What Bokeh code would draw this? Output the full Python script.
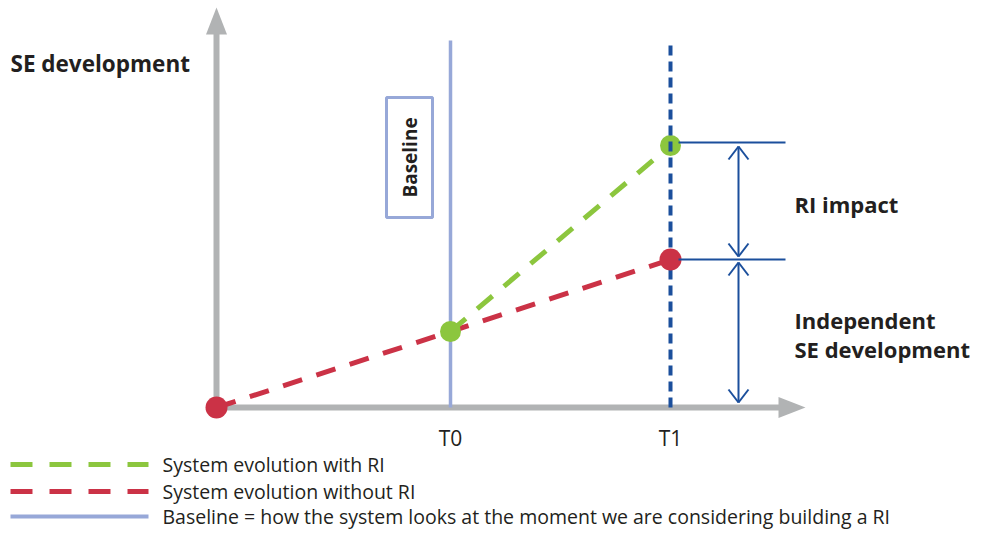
from bokeh.plotting import figure
from bokeh.models import Range1d, Label
from bokeh.core.properties import value
from bokeh.embed import file_html
from bokeh.resources import INLINE
import math

# ---- data (diagram units; origin at the axes crossing) ----
time_labels = ["T0", "T1"]
time_x = [234, 454]
without_ri_x = [0, 234, 454]
without_ri_y = [0, 76, 148]
with_ri_x = [234, 454]
with_ri_y = [76, 262]
legend_labels = ["System evolution with RI",
                 "System evolution without RI",
                 "Baseline = how the system looks at the moment we are considering building a RI"]

GRAY = "#b1b3b4"
LBLUE = "#97a8d8"
DBLUE = "#1b4f9c"
GREEN = "#8cc63e"
RED = "#cb3246"
TXT = "#231f20"
FONT = "Open Sans"

p = figure(width=972, height=534, output_backend="svg", toolbar_location=None,
           x_range=Range1d(-216, 756), y_range=Range1d(-127, 407),
           min_border=0)
p.axis.visible = False
p.grid.visible = False
p.outline_line_color = None
p.background_fill_color = "white"

# axes
y_top = 400
x_tip = 589
head_len, head_w = 27, 21
p.segment(x0=[0], y0=[0], x1=[0], y1=[y_top - head_len + 2], line_color=GRAY, line_width=6)
p.segment(x0=[-3], y0=[0], x1=[x_tip - head_len + 2], y1=[0], line_color=GRAY, line_width=6)
p.patch(x=[-head_w / 2, head_w / 2, 0], y=[y_top - head_len, y_top - head_len, y_top],
        fill_color=GRAY, line_color=None)
p.patch(x=[x_tip - head_len, x_tip - head_len, x_tip], y=[-head_w / 2, head_w / 2, 0],
        fill_color=GRAY, line_color=None)

line_top = 367
# baseline (T0) solid line
p.segment(x0=[time_x[0]], y0=[0], x1=[time_x[0]], y1=[line_top], line_color=LBLUE, line_width=3.5)

# baseline box
p.rect(x=[193], y=[250], width=46, height=120, fill_color=None, line_color=LBLUE, line_width=3)
p.text(x=[193], y=[250], text=["Baseline"], angle=math.pi / 2, text_align="center",
       text_baseline="middle", text_font=value(FONT), text_font_style="bold",
       text_font_size="19px", text_color=TXT)

# series lines
p.line(without_ri_x, without_ri_y, line_color=RED, line_width=5, line_dash="20 15")
p.line(with_ri_x, with_ri_y, line_color=GREEN, line_width=5, line_dash="20 15")

# points
p.scatter(x=[with_ri_x[-1]], y=[with_ri_y[-1]], size=21, fill_color=GREEN, line_color=None)

# T1 dashed line
p.segment(x0=[time_x[1]], y0=[0], x1=[time_x[1]], y1=[line_top], line_color=DBLUE,
          line_width=4, line_dash="10 6")

p.scatter(x=[with_ri_x[0]], y=[with_ri_y[0]], size=21, fill_color=GREEN, line_color=None)
p.scatter(x=[without_ri_x[0], without_ri_x[-1]], y=[without_ri_y[0], without_ri_y[-1]],
          size=22, fill_color=RED, line_color=None)

# horizontal reference lines at T1 values
h_x0, h_x1 = time_x[1] + 8, 569
p.segment(x0=[h_x0, h_x0], y0=[with_ri_y[-1] + 3, without_ri_y[-1]],
          x1=[h_x1, h_x1], y1=[with_ri_y[-1] + 3, without_ri_y[-1]],
          line_color=DBLUE, line_width=2)

# double arrows
ax = 522
arrows = [(with_ri_y[-1], without_ri_y[-1] + 2), (without_ri_y[-1] - 2, 4)]
xs0, ys0, xs1, ys1 = [], [], [], []
for top, bot in arrows:
    xs0.append(ax); ys0.append(top - 1); xs1.append(ax); ys1.append(bot + 1)
    for tip, d in ((top - 1, -1), (bot + 1, 1)):
        for s in (-1, 1):
            xs0.append(ax); ys0.append(tip)
            xs1.append(ax + s * 10); ys1.append(tip + d * 13)
p.segment(x0=xs0, y0=ys0, x1=xs1, y1=ys1, line_color=DBLUE, line_width=2)

# labels
def lab(x, y, t, bold=True, size="22px", align="left"):
    p.add_layout(Label(x=x, y=y, text=t, text_font=FONT,
                       text_font_style="bold" if bold else "normal",
                       text_font_size=size, text_color=TXT, text_align=align,
                       text_baseline="middle"))

lab(-206, 344, "SE development", size="22.5px")
lab(578, 204, "RI impact")
lab(578, 88, "Independent")
lab(578, 59, "SE development")
for tx, tl in zip(time_x, time_labels):
    lab(tx, -30, tl, bold=False, size="21px", align="center")

# legend
leg_y = [-57, -84, -109]
p.segment(x0=[-206], y0=[leg_y[0]], x1=[-68], y1=[leg_y[0]], line_color=GREEN, line_width=5, line_dash="22 17")
p.segment(x0=[-206], y0=[leg_y[1]], x1=[-68], y1=[leg_y[1]], line_color=RED, line_width=5, line_dash="22 17")
p.segment(x0=[-206], y0=[leg_y[2]], x1=[-68], y1=[leg_y[2]], line_color=LBLUE, line_width=4)
for yy, t in zip(leg_y, legend_labels):
    lab(-54, yy, t, bold=False, size="19.5px")

open("out.html", "w").write(file_html(p, INLINE))
